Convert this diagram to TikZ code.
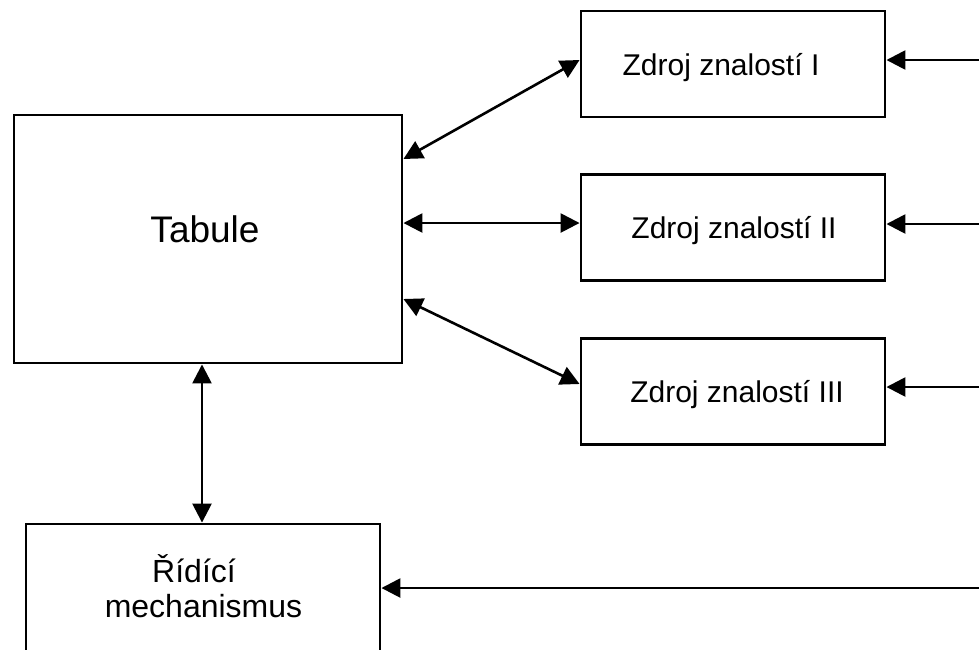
\documentclass[tikz,border=0pt]{standalone}
\usepackage{fontspec}
\setmainfont{Liberation Sans}
\usetikzlibrary{arrows.meta}
\begin{document}
\begin{tikzpicture}[x=1pt,y=-1pt,
  box/.style={draw=black,line width=2.9pt,minimum width=#1,inner sep=0pt,rectangle},
  conn/.style={line width=2.6pt,{Triangle[length=19pt,width=19pt]}-{Triangle[length=19pt,width=19pt]}},
  inarrow/.style={line width=2.6pt,-{Triangle[length=19pt,width=19pt]}},
  zlbl/.style={anchor=base,font=\fontsize{30}{36}\selectfont},
]
\useasboundingbox (0,0) rectangle (979,649);
\clip (0,0) rectangle (979,649);
% boxes
\node[box=388pt,minimum height=248pt] (tab) at (208,239) {};
\node[box=304pt,minimum height=106pt] (z1) at (733,64) {};
\node[box=304pt,minimum height=106pt] (z2) at (733,227.5) {};
\node[box=304pt,minimum height=106pt] (z3) at (733,391.5) {};
\node[box=354pt,minimum height=160pt] (rid) at (203,604) {};
% texts
\node[anchor=base,font=\fontsize{37}{44}\selectfont] (tabtxt) at (205,242) {Tabule};
\node[zlbl] (z1txt) at (721,75) {Zdroj znalostí I};
\node[zlbl] (z2txt) at (734,238.5) {Zdroj znalostí II};
\node[zlbl] (z3txt) at (737,402.5) {Zdroj znalostí III};
\node[anchor=base,font=\fontsize{32}{38}\selectfont] (ridtxt1) at (194,582) {Řídící};
\node[anchor=base,font=\fontsize{32}{38}\selectfont] (ridtxt2) at (203.5,617) {mechanismus};
% outer inputs
\coordinate (in1) at (979,60);
\coordinate (in2) at (979,224);
\coordinate (in3) at (979,387);
\coordinate (in4) at (979,588);
% connectors
\draw[conn] ([yshift=80pt]tab.east) -- ([yshift=4pt]z1.west);
\draw[conn] ([yshift=16pt]tab.east) -- ([yshift=4.5pt]z2.west);
\draw[conn] ([yshift=-60pt]tab.east) -- ([yshift=7.5pt]z3.west);
\draw[conn] ([xshift=-6pt]tab.south) -- ([xshift=-6pt]tab.south |- rid.north);
\draw[inarrow] (in1) -- (in1 -| z1.east);
\draw[inarrow] (in2) -- (in2 -| z2.east);
\draw[inarrow] (in3) -- (in3 -| z3.east);
\draw[inarrow] (in4) -- (in4 -| rid.east);
\end{tikzpicture}
\end{document}
